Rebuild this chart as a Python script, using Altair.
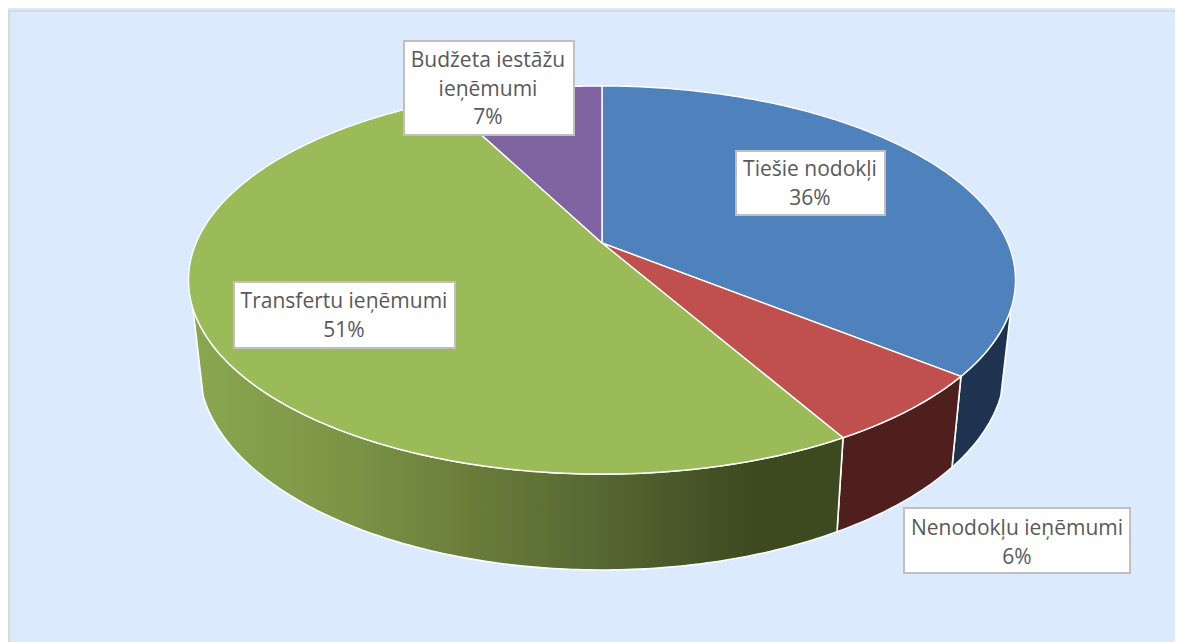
import math
import altair as alt
import pandas as pd

categories = ["Tiešie nodokļi", "Nenodokļu ieņēmumi", "Transfertu ieņēmumi", "Budžeta iestāžu ieņēmumi"]
shares = [35.8, 5.95, 50.7, 7.55]
percent_labels = ["36%", "6%", "51%", "7%"]
top_colors = ["#4F81BD", "#C0504D", "#9BBB59", "#8064A2"]
side_colors = ["#1D3350", "#4F1F1D", None, None]

# Perspective of the pie disc, in picture pixels
CX, CY, A, B, K = 602.0, 243.0, 405.9, 187.0, 0.1907
DEPTH_X, DEPTH_Y, DROP = 0.975, 1.05, 84.4
SIDE_LEFT_END, SIDE_RIGHT_START = 69.7, 30.3


def top_point(p):
    t = 2 * math.pi * p / 100
    u, v = math.sin(t), math.cos(t)
    d = 1 + K * v
    return CX + A * u / d, CY - B * v / d


def bottom_point(p):
    x, y = top_point(p)
    return CX + DEPTH_X * (x - CX), CY + DROP + DEPTH_Y * (y - CY)


def sweep(a, b, fn):
    n = max(2, int(abs(b - a) * 5))
    return [fn(a + (b - a) * i / n) for i in range(n + 1)]


def frame(points):
    return pd.DataFrame({"x": [p[0] for p in points], "y": [p[1] for p in points], "i": range(len(points))})


XS = alt.Scale(domain=[8, 1175], range=[0, 1167], nice=False, zero=False)
YS = alt.Scale(domain=[8, 642], range=[0, 634], nice=False, zero=False)
X = alt.X("x:Q", scale=XS, axis=None)
Y = alt.Y("y:Q", scale=YS, axis=None)


def polygon(points, fill, sw=1.6):
    return alt.Chart(frame(points + points[:1])).mark_line(
        fill=fill, stroke="#FFFFFF", strokeWidth=sw, strokeJoin="round"
    ).encode(x=X, y=Y, order="i:Q")


def side(a, b, fill):
    return polygon(sweep(a, b, top_point) + sweep(b, a, bottom_point), fill)


edges = [0.0]
for s in shares:
    edges.append(edges[-1] + s)

green_gradient = alt.LinearGradient(
    gradient="linear",
    x1=0, x2=1, y1=0, y2=0,
    stops=[
        alt.GradientStop(offset=0.0, color="#8AA74F"),
        alt.GradientStop(offset=0.25, color="#7A9345"),
        alt.GradientStop(offset=0.42, color="#6A7E3A"),
        alt.GradientStop(offset=0.62, color="#566834"),
        alt.GradientStop(offset=0.86, color="#3D4A20"),
        alt.GradientStop(offset=1.0, color="#3D4A20"),
    ],
)

layers = [
    side(SIDE_RIGHT_START, edges[1], side_colors[0]),
    side(edges[1], edges[2], side_colors[1]),
    side(edges[2], SIDE_LEFT_END, green_gradient),
]
for i, c in enumerate(top_colors):
    layers.append(polygon([(CX, CY)] + sweep(edges[i], edges[i + 1], top_point), c, 1.4))

# Chart-area border, only the top and left edges show
border = pd.DataFrame({"x": [8, 8], "x2": [1175, 10], "y": [10, 10], "y2": [12, 642]})
layers.insert(0, alt.Chart(border).mark_rect(color="#D9D9D9").encode(
    x=X, x2="x2:Q", y=Y, y2="y2:Q"))

boxes = pd.DataFrame({
    "x": [736, 404, 234, 904],
    "x2": [885, 574, 455, 1130],
    "y": [151, 41, 282, 508],
    "y2": [215, 135, 348, 573],
})
label_text = ["Tiešie nodokļi", percent_labels[0],
              "Budžeta iestāžu", "ieņēmumi", percent_labels[3],
              "Transfertu ieņēmumi", percent_labels[2],
              "Nenodokļu ieņēmumi", percent_labels[1]]
label_x = [810, 810, 488, 488, 488, 344, 344, 1017, 1017]
label_y = [170, 199, 61, 90, 118, 302, 331, 529, 558]
texts = pd.DataFrame({"x": label_x, "y": label_y, "text": label_text})

layers.append(alt.Chart(boxes).mark_rect(fill="#FFFFFF", stroke="#BFBFBF", strokeWidth=2).encode(
    x=X, x2="x2:Q", y=Y, y2="y2:Q"))
layers.append(alt.Chart(texts).mark_text(
    font="Open Sans", fontSize=21, color="#595959", align="center", baseline="middle"
).encode(x=X, y=Y, text="text:N"))

chart = alt.layer(*layers).properties(
    width=1167, height=634, background="#DCEAFD", padding=0,
    autosize=alt.AutoSizeParams(type="none"),
).configure_view(stroke=None)

chart.save("out.html", embed_options={"renderer": "svg", "actions": False})
